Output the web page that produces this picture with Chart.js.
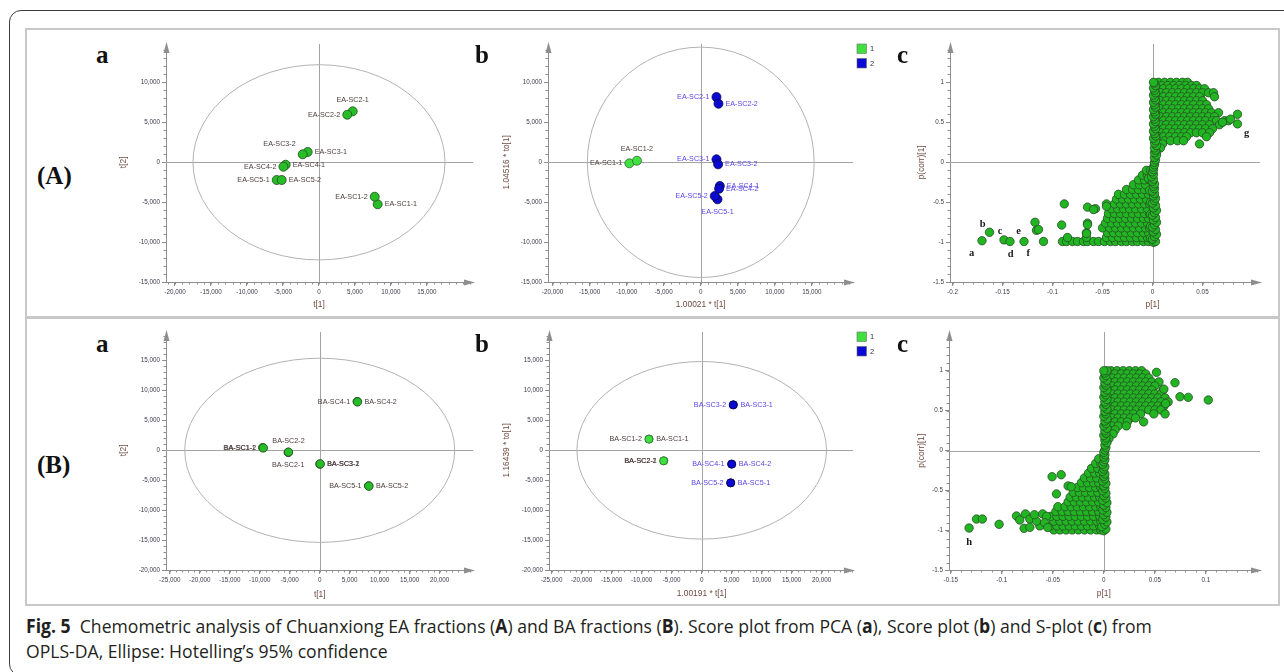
<!DOCTYPE html>
<html>
<head>
<meta charset="utf-8">
<script src="https://cdn.jsdelivr.net/npm/chart.js@4.4.1/dist/chart.umd.min.js"></script>
<style>
html, body { margin: 0; padding: 0; background: #fff; }
body { width: 1284px; height: 672px; position: relative; overflow: hidden; }
.frame { position: absolute; left: 9px; top: 10px; width: 1320px; height: 666px; border: 1.5px solid #3c3c3c; border-radius: 12px; box-sizing: border-box; }
.panel { position: absolute; left: 25px; top: 28px; width: 1255px; height: 578px; border: 2.5px solid #c8c8c8; box-sizing: border-box; }
.sep { position: absolute; left: 25px; top: 316px; width: 1255px; height: 3px; background: #c8c8c8; }
canvas { position: absolute; }
.pl { position: absolute; font: bold 25px "Liberation Serif"; line-height: 25px; color: #111; }
.cap { position: absolute; left: 26px; font: 19px "Open Sans"; line-height: 25px; color: #231f20; white-space: nowrap;
  transform: scaleX(0.926); transform-origin: 0 50%; }
.cap b { font-weight: 700; }
</style>
</head>
<body>
<div class="frame"></div>
<div class="panel"></div>
<div class="sep"></div>

<canvas id="eaPca" width="370" height="274" style="left:110px;top:36px"></canvas>
<canvas id="eaOpls" width="390" height="274" style="left:490px;top:36px"></canvas>
<canvas id="eaS" width="385" height="274" style="left:890px;top:36px"></canvas>
<canvas id="baPca" width="370" height="276" style="left:110px;top:324px"></canvas>
<canvas id="baOpls" width="390" height="276" style="left:490px;top:324px"></canvas>
<canvas id="baS" width="385" height="276" style="left:890px;top:324px"></canvas>

<div class="pl" style="left:96px;top:42px">a</div>
<div class="pl" style="left:475px;top:42px">b</div>
<div class="pl" style="left:897px;top:42px">c</div>
<div class="pl" style="left:37px;top:163px">(A)</div>
<div class="pl" style="left:96px;top:331px">a</div>
<div class="pl" style="left:475px;top:331px">b</div>
<div class="pl" style="left:897px;top:331px">c</div>
<div class="pl" style="left:37px;top:452px">(B)</div>

<div class="cap" style="top:614px"><b>Fig. 5</b>&nbsp; Chemometric analysis of Chuanxiong EA fractions (<b>A</b>) and BA fractions (<b>B</b>). Score plot from PCA (<b>a</b>), Score plot (<b>b</b>) and S-plot (<b>c</b>) from</div>
<div class="cap" style="top:639px">OPLS-DA, Ellipse: Hotelling’s 95% confidence</div>

<script>
// ---- EA fractions, PCA scores (A a)
const eaPcaNames = ['EA-SC1-1', 'EA-SC1-2', 'EA-SC2-1', 'EA-SC2-2', 'EA-SC3-1', 'EA-SC3-2', 'EA-SC4-1', 'EA-SC4-2', 'EA-SC5-1', 'EA-SC5-2'];
const eaPcaT1 = [8150, 7740, 4680, 3930, -1570, -2260, -4630, -4940, -5875, -5180];
const eaPcaT2 = [-5250, -4300, 6375, 5950, 1290, 1000, -300, -550, -2210, -2210];

// ---- EA fractions, OPLS-DA scores (A b)
const eaOplsNames1 = ['EA-SC1-1', 'EA-SC1-2'];
const eaOplsT1g1 = [-9635, -8610];
const eaOplsTo1g1 = [-125, 200];
const eaOplsNames2 = ['EA-SC2-1', 'EA-SC2-2', 'EA-SC3-1', 'EA-SC3-2', 'EA-SC4-1', 'EA-SC4-2', 'EA-SC5-1', 'EA-SC5-2'];
const eaOplsT1g2 = [2120, 2390, 2120, 2340, 2570, 2470, 2260, 1890];
const eaOplsTo1g2 = [8160, 7325, 375, -250, -2960, -3300, -4625, -4210];

// ---- BA fractions, PCA scores (B a)
const baPcaNames = ['BA-SC1-1', 'BA-SC1-2', 'BA-SC2-1', 'BA-SC2-2', 'BA-SC3-1', 'BA-SC3-2', 'BA-SC4-1', 'BA-SC4-2', 'BA-SC5-1', 'BA-SC5-2'];
const baPcaT1 = [-9500, -9400, -5250, -5200, 30, 80, 6250, 6300, 8150, 8200];
const baPcaT2 = [450, 400, -350, -300, -2300, -2260, 8120, 8080, -5930, -5970];

// ---- BA fractions, OPLS-DA scores (B b)
const baOplsNames1 = ['BA-SC1-1', 'BA-SC1-2', 'BA-SC2-1', 'BA-SC2-2'];
const baOplsT1g1 = [-8760, -8800, -6310, -6350];
const baOplsTo1g1 = [1880, 1860, -1740, -1760];
const baOplsNames2 = ['BA-SC3-1', 'BA-SC3-2', 'BA-SC4-1', 'BA-SC4-2', 'BA-SC5-1', 'BA-SC5-2'];
const baOplsT1g2 = [5290, 5250, 4980, 5020, 4850, 4810];
const baOplsTo1g2 = [7590, 7570, -2290, -2310, -5410, -5430];

// Hotelling T2 (95%) ellipse radii [t1, t2]
const eaPcaEllipse = [17500, 12200];
const eaOplsEllipse = [15300, 14400];
const baPcaEllipse = [22500, 15350];
const baOplsEllipse = [20800, 14800];

// tick labels
const eaScoreXTicks = [-20000, -15000, -10000, -5000, 0, 5000, 10000, 15000];
const eaScoreYTicks = [-15000, -10000, -5000, 0, 5000, 10000];
const baScoreXTicks = [-25000, -20000, -15000, -10000, -5000, 0, 5000, 10000, 15000, 20000];
const baScoreYTicks = [-20000, -15000, -10000, -5000, 0, 5000, 10000, 15000];
const eaSXTicks = [-0.2, -0.15, -0.1, -0.05, 0, 0.05];
const baSXTicks = [-0.15, -0.1, -0.05, 0, 0.05, 0.1];
const sYTicks = [-1.5, -1, -0.5, 0, 0.5, 1];

// ---- EA S-plot: p[1], p(corr)[1]  (rows are [p(corr), [p, p, ...]])
const eaUpperRows = [
  [1.0, [0.006, 0.012, 0.018, 0.024, 0.03, 0.035]],
  [0.96, [0.009, 0.015, 0.021, 0.027, 0.033, 0.039, 0.044]],
  [0.92, [0.005, 0.011, 0.017, 0.023, 0.029, 0.035, 0.041, 0.047, 0.052]],
  [0.87, [0.008, 0.014, 0.02, 0.026, 0.032, 0.038, 0.044, 0.05, 0.056, 0.061]],
  [0.82, [0.005, 0.011, 0.017, 0.023, 0.029, 0.035, 0.041, 0.047, 0.062]],
  [0.77, [0.008, 0.014, 0.02, 0.026, 0.032, 0.038, 0.044, 0.05]],
  [0.72, [0.005, 0.011, 0.017, 0.023, 0.029, 0.035, 0.041, 0.048, 0.054]],
  [0.67, [0.008, 0.014, 0.02, 0.026, 0.032, 0.038, 0.044, 0.05, 0.056]],
  [0.62, [0.005, 0.011, 0.017, 0.023, 0.029, 0.035, 0.041, 0.047, 0.053, 0.059, 0.066]],
  [0.57, [0.008, 0.014, 0.02, 0.026, 0.032, 0.038, 0.044, 0.05, 0.056, 0.062]],
  [0.52, [0.005, 0.011, 0.017, 0.023, 0.029, 0.035, 0.041, 0.047, 0.053, 0.06, 0.064, 0.072, 0.076]],
  [0.47, [0.008, 0.014, 0.02, 0.026, 0.032, 0.038, 0.044, 0.05, 0.057, 0.067]],
  [0.42, [0.005, 0.011, 0.017, 0.023, 0.029, 0.035, 0.041, 0.047, 0.053, 0.06]],
  [0.37, [0.008, 0.014, 0.02, 0.026, 0.032, 0.038, 0.044, 0.05, 0.057]],
  [0.32, [0.006, 0.011, 0.017, 0.023, 0.029, 0.034, 0.054]],
  [0.27, [0.006, 0.012, 0.018, 0.025, 0.031]],
  [0.23, [0.005, 0.01, 0.047]],
  [0.18, [0.005, 0.008]],
  [0.12, [0.004]]
];
const eaLowerRows = [
  [-0.99, [-0.09, -0.086, -0.08, -0.075, -0.069, -0.065, -0.059, -0.054, -0.048, -0.042, -0.037, -0.031, -0.026, -0.02, -0.015, -0.009, -0.004]],
  [-0.94, [-0.085, -0.066, -0.046, -0.04, -0.034, -0.028, -0.022, -0.016, -0.01, -0.005]],
  [-0.88, [-0.066, -0.045, -0.039, -0.033, -0.027, -0.021, -0.015, -0.009, -0.004]],
  [-0.82, [-0.05, -0.043, -0.037, -0.031, -0.025, -0.019, -0.013, -0.007, -0.003]],
  [-0.76, [-0.065, -0.047, -0.041, -0.035, -0.029, -0.023, -0.017, -0.011, -0.005]],
  [-0.7, [-0.045, -0.039, -0.033, -0.027, -0.021, -0.015, -0.009, -0.004]],
  [-0.64, [-0.044, -0.038, -0.032, -0.026, -0.02, -0.014, -0.008, -0.003]],
  [-0.58, [-0.057, -0.041, -0.035, -0.029, -0.023, -0.017, -0.011, -0.005]],
  [-0.52, [-0.046, -0.038, -0.032, -0.026, -0.02, -0.014, -0.008, -0.003]],
  [-0.46, [-0.036, -0.03, -0.024, -0.018, -0.012, -0.006]],
  [-0.4, [-0.034, -0.028, -0.022, -0.016, -0.01, -0.004]],
  [-0.34, [-0.026, -0.02, -0.014, -0.008, -0.003]],
  [-0.28, [-0.019, -0.013, -0.007]],
  [-0.22, [-0.014, -0.008, -0.003]],
  [-0.16, [-0.01, -0.005]],
  [-0.1, [-0.006, -0.002]]
];
const eaOutlierPts = [
  [0.078, 0.54], [0.085, 0.6], [0.085, 0.48], [0.07, 0.5],
  [-0.0882, -0.52], [-0.0908, -0.784], [-0.065, -0.56], [-0.059, -0.59], [-0.065, -0.78], [-0.046, -0.55], [-0.066, -0.89],
  [-0.1705, -0.98], [-0.163, -0.875], [-0.1485, -0.97], [-0.1425, -0.99], [-0.1285, -0.99],
  [-0.1175, -0.75], [-0.116, -0.85], [-0.114, -0.84], [-0.109, -0.99]
];
const eaBandPts = [
  [-0.002, -0.95], [-0.002, -0.8], [-0.002, -0.65], [-0.002, -0.5], [-0.003, -0.35], [-0.004, -0.2],
  [0.001, -1.0], [0.003, -0.99], [0.0, -0.96], [0.002, -0.93], [0.004, -0.9], [0.001, -0.87], [0.003, -0.84], [0.0, -0.81],
  [0.002, -0.78], [0.004, -0.75], [0.001, -0.72], [0.003, -0.69], [0.0, -0.66], [0.002, -0.63], [0.004, -0.6], [0.001, -0.57],
  [0.003, -0.54], [0.0, -0.51], [0.002, -0.48], [0.003, -0.45], [0.001, -0.42], [0.002, -0.39], [0.0, -0.36], [0.002, -0.33],
  [0.001, -0.3], [0.002, -0.27], [0.0, -0.24], [0.001, -0.21], [-0.001, -0.18], [0.001, -0.15], [0.0, -0.12], [0.001, -0.09],
  [0.001, -0.06], [0.002, -0.03], [0.002, 0.0], [0.003, 0.03], [0.002, 0.06], [0.004, 0.09], [0.002, 0.12], [0.003, 0.15],
  [0.002, 0.18], [0.004, 0.21], [0.002, 0.24], [0.003, 0.27], [0.001, 0.3], [0.003, 0.33], [0.002, 0.36], [0.001, 0.39],
  [0.003, 0.42], [0.002, 0.45], [0.001, 0.48], [0.003, 0.51], [0.002, 0.54], [0.001, 0.57], [0.003, 0.6], [0.002, 0.63],
  [0.001, 0.66], [0.003, 0.69], [0.002, 0.72], [0.001, 0.75], [0.003, 0.78], [0.002, 0.81], [0.001, 0.84], [0.003, 0.87],
  [0.002, 0.9], [0.001, 0.93], [0.003, 0.96], [0.002, 0.99], [0.001, 1.0]
];
const eaSLetters = [['a', -0.1808, -1.1375], ['b', -0.1698, -0.771], ['c', -0.1525, -0.859], ['d', -0.1418, -1.146],
  ['e', -0.1338, -0.859], ['f', -0.1242, -1.1375], ['g', 0.0942, 0.3625]];

// ---- BA S-plot
const baUpperRows = [
  [1.0, [0.007, 0.013, 0.019, 0.025, 0.031, 0.037]],
  [0.96, [0.005, 0.011, 0.017, 0.023, 0.029, 0.035, 0.041]],
  [0.91, [0.008, 0.014, 0.02, 0.026, 0.032, 0.038, 0.044]],
  [0.86, [0.005, 0.011, 0.017, 0.023, 0.029, 0.035, 0.041, 0.047, 0.054]],
  [0.81, [0.008, 0.014, 0.02, 0.026, 0.032, 0.038, 0.044, 0.05]],
  [0.76, [0.005, 0.011, 0.017, 0.023, 0.029, 0.035, 0.041, 0.047, 0.058]],
  [0.71, [0.008, 0.014, 0.02, 0.026, 0.032, 0.038, 0.044, 0.05, 0.056]],
  [0.66, [0.005, 0.011, 0.017, 0.023, 0.029, 0.035, 0.041, 0.047, 0.053, 0.06]],
  [0.61, [0.008, 0.014, 0.02, 0.026, 0.032, 0.038, 0.044, 0.05, 0.056, 0.063]],
  [0.56, [0.005, 0.011, 0.017, 0.023, 0.029, 0.035, 0.041, 0.047, 0.053, 0.059]],
  [0.51, [0.008, 0.014, 0.02, 0.026, 0.032, 0.038, 0.044, 0.05, 0.056]],
  [0.46, [0.005, 0.011, 0.017, 0.023, 0.029, 0.036, 0.049, 0.06]],
  [0.41, [0.008, 0.014, 0.02, 0.026, 0.031]],
  [0.36, [0.005, 0.011, 0.017, 0.023, 0.039]],
  [0.31, [0.008, 0.014, 0.022]],
  [0.26, [0.005, 0.011]],
  [0.21, [0.004, 0.009]],
  [0.15, [0.005]]
];
const baLowerRows = [
  [-0.99, [-0.049, -0.043, -0.037, -0.031, -0.025, -0.019, -0.013, -0.007, -0.003]],
  [-0.94, [-0.052, -0.046, -0.04, -0.034, -0.028, -0.022, -0.016, -0.01, -0.004]],
  [-0.88, [-0.049, -0.043, -0.037, -0.031, -0.025, -0.019, -0.013, -0.007, -0.003]],
  [-0.82, [-0.052, -0.046, -0.04, -0.034, -0.028, -0.022, -0.016, -0.01, -0.004]],
  [-0.76, [-0.047, -0.041, -0.035, -0.029, -0.023, -0.017, -0.011, -0.005]],
  [-0.7, [-0.045, -0.038, -0.032, -0.026, -0.02, -0.014, -0.008, -0.003]],
  [-0.64, [-0.035, -0.029, -0.023, -0.017, -0.011, -0.005]],
  [-0.58, [-0.033, -0.027, -0.021, -0.015, -0.009, -0.004]],
  [-0.52, [-0.03, -0.024, -0.018, -0.012, -0.006]],
  [-0.46, [-0.026, -0.02, -0.014, -0.008, -0.003]],
  [-0.4, [-0.022, -0.016, -0.01, -0.005]],
  [-0.34, [-0.019, -0.013, -0.007]],
  [-0.28, [-0.015, -0.009, -0.004]],
  [-0.22, [-0.012, -0.006]],
  [-0.16, [-0.008, -0.003]],
  [-0.1, [-0.005]]
];
const baOutlierPts = [
  [0.0516, 0.98], [0.0697, 0.85], [0.0746, 0.675], [0.0827, 0.667], [0.1023, 0.634], [0.0588, 0.77], [0.0605, 0.59],
  [-0.132, -0.966], [-0.1248, -0.854], [-0.119, -0.854], [-0.1026, -0.92], [-0.0856, -0.816], [-0.0824, -0.866],
  [-0.0768, -0.79], [-0.0781, -0.97], [-0.0725, -0.854], [-0.0725, -0.958], [-0.0627, -0.94], [-0.06, -0.79],
  [-0.0562, -0.82], [-0.066, -0.88], [-0.058, -0.9], [-0.055, -0.96], [-0.068, -0.8],
  [-0.0507, -0.325], [-0.0418, -0.3], [-0.0464, -0.54], [-0.035, -0.44], [-0.032, -0.45]
];
const baBandPts = [
  [0.0, -1.0], [0.002, -0.98], [-0.002, -0.95], [0.001, -0.92], [0.003, -0.89], [-0.001, -0.86], [0.002, -0.83], [0.0, -0.8],
  [0.003, -0.77], [-0.001, -0.74], [0.002, -0.71], [0.0, -0.68], [0.003, -0.65], [-0.001, -0.62], [0.002, -0.59], [0.0, -0.56],
  [0.002, -0.53], [-0.001, -0.5], [0.001, -0.47], [0.0, -0.44], [0.002, -0.41], [-0.001, -0.38], [0.001, -0.35], [0.0, -0.32],
  [0.001, -0.29], [-0.001, -0.26], [0.0, -0.23], [0.001, -0.2], [-0.001, -0.17], [0.0, -0.14], [0.001, -0.11], [0.0, -0.08],
  [0.001, -0.05], [0.0, -0.02], [0.001, 0.01], [0.002, 0.04], [0.001, 0.07], [0.003, 0.1], [0.001, 0.13], [0.002, 0.16],
  [0.0, 0.19], [0.002, 0.22], [0.001, 0.25], [0.003, 0.28], [0.0, 0.31], [0.002, 0.34], [0.001, 0.37], [0.003, 0.4],
  [0.0, 0.43], [0.002, 0.46], [0.001, 0.49], [0.003, 0.52], [0.0, 0.55], [0.002, 0.58], [0.001, 0.61], [0.003, 0.64],
  [0.0, 0.67], [0.002, 0.7], [0.001, 0.73], [0.003, 0.76], [0.0, 0.79], [0.002, 0.82], [0.001, 0.85], [0.003, 0.88],
  [0.0, 0.91], [0.002, 0.94], [0.001, 0.97], [0.003, 1.0], [0.0, 1.0]
];
const baSLetters = [['h', -0.132, -1.15]];

// ---------------------------------------------------------------
const AXIS = '#8e8e8e';
const TICKC = '#3b3b4a';
const TITLEC = '#704a40';
const extras = {};

const toPts = (xs, ys) => xs.map((v, i) => ({ x: v, y: ys[i] }));
const rowsToPts = rows => rows.flatMap(([y, xs]) => xs.map(x => ({ x, y })));
const pairsToPts = pairs => pairs.map(([x, y]) => ({ x, y }));
const fmtBig = v => v.toLocaleString('en-US');
const fmtSmall = v => String(v);

const simca = {
  id: 'simca',
  beforeDatasetsDraw(chart) {
    const o = extras[chart.canvas.id];
    const { ctx, chartArea: a, scales: { x, y } } = chart;
    const x0 = x.getPixelForValue(0), y0 = y.getPixelForValue(0);
    ctx.save();
    ctx.lineWidth = 1;
    ctx.strokeStyle = '#a4a4a4';
    ctx.beginPath();
    ctx.moveTo(a.left, Math.round(y0) + 0.5); ctx.lineTo(a.right, Math.round(y0) + 0.5);
    ctx.moveTo(Math.round(x0) + 0.5, a.top); ctx.lineTo(Math.round(x0) + 0.5, a.bottom);
    ctx.stroke();
    if (o.ellipse) {
      const rx = x.getPixelForValue(o.ellipse[0]) - x0;
      const ry = y0 - y.getPixelForValue(o.ellipse[1]);
      ctx.strokeStyle = '#b2b2b2';
      ctx.beginPath();
      ctx.ellipse(x0, y0, rx, ry, 0, 0, Math.PI * 2);
      ctx.stroke();
    }
    ctx.restore();
  },
  afterDatasetsDraw(chart) {
    const o = extras[chart.canvas.id];
    const { ctx, scales: { x, y } } = chart;
    ctx.save();
    ctx.textBaseline = 'middle';
    chart.data.datasets.forEach((d, di) => {
      if (!d.names) return;
      ctx.fillStyle = d.labelColor;
      ctx.font = '7.2px "Liberation Sans"';
      chart.getDatasetMeta(di).data.forEach((pt, i) => {
        const side = d.sides[i];
        let tx = pt.x, ty = pt.y;
        if (side === 'left') { ctx.textAlign = 'right'; tx -= 7; }
        else if (side === 'right') { ctx.textAlign = 'left'; tx += 7; }
        else if (side === 'up') { ctx.textAlign = 'center'; ty -= 11.5; }
        else if (side === 'down') { ctx.textAlign = 'center'; ty += 12.5; }
        else { ctx.textAlign = 'right'; tx -= 7; ty -= 10; }
        ctx.fillText(d.names[i], tx, ty);
      });
    });
    if (o.letters) {
      ctx.fillStyle = '#1a1a1a';
      ctx.font = 'bold 10.5px "Liberation Serif"';
      ctx.textAlign = 'center';
      o.letters.forEach(([t, lx, ly]) => ctx.fillText(t, x.getPixelForValue(lx), y.getPixelForValue(ly)));
    }
    ctx.restore();
  },
  afterDraw(chart) {
    const o = extras[chart.canvas.id];
    const { ctx, chartArea: a, scales: { x, y } } = chart;
    ctx.save();
    ctx.strokeStyle = AXIS; ctx.fillStyle = AXIS; ctx.lineWidth = 1;
    // minor ticks
    ctx.beginPath();
    for (let k = Math.ceil(x.min / o.minorX); k * o.minorX <= x.max; k++) {
      const px = Math.round(x.getPixelForValue(k * o.minorX)) + 0.5;
      ctx.moveTo(px, a.bottom); ctx.lineTo(px, a.bottom + 2.5);
    }
    for (let k = Math.ceil(y.min / o.minorY); k * o.minorY <= y.max; k++) {
      const py = Math.round(y.getPixelForValue(k * o.minorY)) + 0.5;
      ctx.moveTo(a.left, py); ctx.lineTo(a.left - 2.5, py);
    }
    ctx.stroke();
    // axis arrows
    ctx.beginPath();
    ctx.moveTo(a.left + 0.5, a.top - 2); ctx.lineTo(a.left - 2.5, a.top + 9); ctx.lineTo(a.left + 3.5, a.top + 9); ctx.closePath();
    ctx.moveTo(a.right + 2, a.bottom + 0.5); ctx.lineTo(a.right - 9, a.bottom - 2.5); ctx.lineTo(a.right - 9, a.bottom + 3.5); ctx.closePath();
    ctx.fill();
    // axis titles
    ctx.fillStyle = TITLEC;
    ctx.font = '8.4px "Liberation Sans"';
    ctx.textAlign = 'center'; ctx.textBaseline = 'middle';
    ctx.fillText(o.xTitle, x.getPixelForValue(0), o.xTitleY);
    ctx.save();
    ctx.translate(o.yTitleX, y.getPixelForValue(0));
    ctx.rotate(-Math.PI / 2);
    ctx.fillText(o.yTitle, 0, 0);
    ctx.restore();
    // class legend
    if (o.legend) {
      chart.data.datasets.forEach((d, i) => {
        const lx = a.right + 4, ly = a.top + i * 14.5;
        ctx.fillStyle = d.backgroundColor;
        ctx.fillRect(lx, ly, 9.5, 9.5);
        ctx.strokeStyle = '#6a6a6a'; ctx.lineWidth = 0.6;
        ctx.strokeRect(lx, ly, 9.5, 9.5);
        ctx.fillStyle = '#333';
        ctx.font = '7.5px "Liberation Sans"';
        ctx.textAlign = 'left';
        ctx.fillText(d.label, lx + 13, ly + 5);
      });
    }
    ctx.restore();
  }
};

function axis(dir, min, max, ticks, fmt, size) {
  return {
    type: 'linear',
    position: dir === 'x' ? 'bottom' : 'left',
    min: min, max: max,
    afterBuildTicks: s => { s.ticks = ticks.map(v => ({ value: v })); },
    afterFit: s => { if (dir === 'x') s.height = size; else s.width = size; },
    border: { color: AXIS, width: 1 },
    grid: { drawOnChartArea: false, drawTicks: true, tickLength: 4, color: AXIS },
    ticks: { autoSkip: false, maxRotation: 0, padding: 2, color: TICKC,
      font: { family: 'Liberation Sans', size: 6.3 }, callback: fmt }
  };
}

function makePlot(id, c) {
  extras[id] = c.extra;
  return new Chart(document.getElementById(id), {
    type: 'scatter',
    data: { datasets: c.datasets },
    options: {
      responsive: false, animation: false, devicePixelRatio: 1,
      layout: { padding: { top: 8, right: c.padRight, left: 0, bottom: 0 } },
      plugins: { legend: { display: false }, tooltip: { enabled: false } },
      scales: {
        x: axis('x', c.x[0], c.x[1], c.xTicks, c.fmt, c.xSize),
        y: axis('y', c.y[0], c.y[1], c.yTicks, c.fmt, c.ySize)
      }
    },
    plugins: [simca]
  });
}

function scoreSet(label, xs, ys, names, sides, fill, border, labelColor, r) {
  return { label, data: toPts(xs, ys), names, sides, labelColor,
    backgroundColor: fill, borderColor: border, borderWidth: 0.8, pointRadius: r };
}
function sSet(pts) {
  return { label: 'S', data: pts, backgroundColor: '#21b521', borderColor: '#294d29', borderWidth: 0.8, pointRadius: 4.2 };
}

const G_FILL = '#26bd26', G_LINE = '#234a23';
const L_FILL = '#3fe03f', L_LINE = '#2d6b2d';
const B_FILL = '#0a0ad2', B_LINE = '#06064a';
const LBL = '#4b3c3c', LBL_BLUE = '#5a46e6';

// A a
makePlot('eaPca', {
  x: [-21250, 21390], y: [-14960, 14790], xTicks: eaScoreXTicks, yTicks: eaScoreYTicks, fmt: fmtBig,
  xSize: 28, ySize: 56, padRight: 7,
  datasets: [scoreSet('PCA', eaPcaT1, eaPcaT2, eaPcaNames,
    ['right', 'left', 'up', 'left', 'right', 'upleft', 'right', 'left', 'left', 'right'], G_FILL, G_LINE, LBL, 4.5)],
  extra: { ellipse: eaPcaEllipse, minorX: 1000, minorY: 1000, xTitle: 't[1]', yTitle: 't[2]', xTitleY: 269, yTitleX: 14 }
});

// A b
makePlot('eaOpls', {
  x: [-20610, 20540], y: [-14960, 14790], xTicks: eaScoreXTicks, yTicks: eaScoreYTicks, fmt: fmtBig,
  xSize: 28, ySize: 58, padRight: 27,
  datasets: [
    scoreSet('1', eaOplsT1g1, eaOplsTo1g1, eaOplsNames1, ['left', 'up'], L_FILL, L_LINE, LBL, 4.5),
    scoreSet('2', eaOplsT1g2, eaOplsTo1g2, eaOplsNames2,
      ['left', 'right', 'left', 'right', 'right', 'right', 'down', 'left'], B_FILL, B_LINE, LBL_BLUE, 4.5)
  ],
  extra: { ellipse: eaOplsEllipse, minorX: 1000, minorY: 1000, xTitle: '1.00021 * t[1]', yTitle: '1.04516 * to[1]',
    xTitleY: 269, yTitleX: 16.7, legend: true }
});

// A c
makePlot('eaS', {
  x: [-0.2025, 0.1075], y: [-1.496, 1.479], xTicks: eaSXTicks, yTicks: sYTicks, fmt: fmtSmall,
  xSize: 28, ySize: 60, padRight: 15,
  datasets: [sSet(rowsToPts(eaUpperRows).concat(rowsToPts(eaLowerRows), pairsToPts(eaOutlierPts), pairsToPts(eaBandPts)))],
  extra: { minorX: 0.01, minorY: 0.1, xTitle: 'p[1]', yTitle: 'p(corr)[1]', xTitleY: 269, yTitleX: 31.7, letters: eaSLetters }
});

// B a
makePlot('baPca', {
  x: [-25620, 25550], y: [-19950, 19720], xTicks: baScoreXTicks, yTicks: baScoreYTicks, fmt: fmtBig,
  xSize: 30, ySize: 56, padRight: 7,
  datasets: [scoreSet('PCA', baPcaT1, baPcaT2, baPcaNames,
    ['left', 'left', 'down', 'up', 'right', 'right', 'left', 'right', 'left', 'right'], G_FILL, G_LINE, LBL, 4.2)],
  extra: { ellipse: baPcaEllipse, minorX: 1000, minorY: 1000, xTitle: 't[1]', yTitle: 't[2]', xTitleY: 271, yTitleX: 14 }
});

// B b
makePlot('baOpls', {
  x: [-25450, 25220], y: [-19950, 19720], xTicks: baScoreXTicks, yTicks: baScoreYTicks, fmt: fmtBig,
  xSize: 30, ySize: 59, padRight: 27,
  datasets: [
    scoreSet('1', baOplsT1g1, baOplsTo1g1, baOplsNames1, ['right', 'left', 'left', 'left'], L_FILL, L_LINE, LBL, 4.0),
    scoreSet('2', baOplsT1g2, baOplsTo1g2, baOplsNames2,
      ['right', 'left', 'left', 'right', 'right', 'left'], B_FILL, B_LINE, LBL_BLUE, 4.0)
  ],
  extra: { ellipse: baOplsEllipse, minorX: 1000, minorY: 1000, xTitle: '1.00191 * t[1]', yTitle: '1.16439 * to[1]',
    xTitleY: 270, yTitleX: 16.7, legend: true }
});

// B c
makePlot('baS', {
  x: [-0.1517, 0.153], y: [-1.491, 1.484], xTicks: baSXTicks, yTicks: sYTicks, fmt: fmtSmall,
  xSize: 30, ySize: 59, padRight: 15,
  datasets: [sSet(rowsToPts(baUpperRows).concat(rowsToPts(baLowerRows), pairsToPts(baOutlierPts), pairsToPts(baBandPts)))],
  extra: { minorX: 0.01, minorY: 0.1, xTitle: 'p[1]', yTitle: 'p(corr)[1]', xTitleY: 270, yTitleX: 31.7, letters: baSLetters }
});
</script>
</body>
</html>
